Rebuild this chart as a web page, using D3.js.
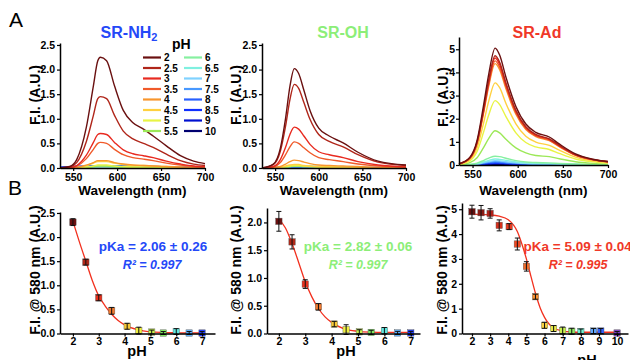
<!DOCTYPE html>
<html>
<head>
<meta charset="utf-8">
<script src="https://cdn.jsdelivr.net/npm/d3@7"></script>
<style>
  body { margin: 0; background: #fff; }
  svg { display: block; font-family: "Liberation Sans", Arial, sans-serif; }
  .axis text { font-size: 10.5px; font-weight: bold; fill: #000; font-family: "Liberation Sans", Arial, sans-serif; }
  .axis path, .axis line { stroke: #000; }
  .axis path { stroke-width: 1.5px; }
  .axis line { stroke-width: 1.2px; }
  .lab { font-weight: bold; fill: #000; }
</style>
</head>
<body>
<svg id="chart" width="630" height="360"></svg>
<script>
// pH legend
const phLabels = ['2', '2.5', '3', '3.5', '4', '4.5', '5', '5.5', '6', '6.5', '7', '7.5', '8', '8.5', '9', '10'];
const phColors = ['#6a1010', '#b0261a', '#e82a20', '#f05a2a', '#f8962e', '#ffd040', '#e8f444', '#9ce858',
  '#86f0a0', '#80f0e0', '#80d2ff', '#4898ff', '#2860ff', '#1030ff', '#0010d0', '#000070'];

// A: emission spectra, one row per pH (same order as phLabels)
const nh2Wave = [535, 546, 554, 565, 573, 578, 581, 588, 597, 607, 618, 630, 641, 656, 672, 687, 700];
const nh2Spectra = [
  [0, 0.03, 0.17, 0.83, 1.67, 2.18, 2.25, 2.18, 1.67, 1.17, 0.92, 0.79, 0.65, 0.45, 0.25, 0.14, 0.09],
  [0, 0.02, 0.11, 0.54, 1.07, 1.41, 1.45, 1.41, 1.07, 0.75, 0.59, 0.5, 0.42, 0.28, 0.15, 0.08, 0.05],
  [0, 0.01, 0.05, 0.26, 0.52, 0.68, 0.7, 0.68, 0.52, 0.37, 0.29, 0.25, 0.21, 0.14, 0.08, 0.04, 0.03],
  [0, 0.01, 0.04, 0.19, 0.38, 0.5, 0.52, 0.5, 0.38, 0.27, 0.21, 0.18, 0.15, 0.1, 0.06, 0.03, 0.02],
  [0, 0, 0.01, 0.06, 0.11, 0.15, 0.15, 0.15, 0.11, 0.08, 0.06, 0.05, 0.04, 0.03, 0.02, 0.01, 0.01],
  [0, 0, 0.01, 0.05, 0.1, 0.13, 0.13, 0.13, 0.1, 0.07, 0.05, 0.05, 0.04, 0.03, 0.01, 0.01, 0.01],
  [0, 0, 0, 0.02, 0.04, 0.06, 0.06, 0.06, 0.04, 0.03, 0.02, 0.02, 0.02, 0.01, 0.01, 0, 0],
  [0, 0, 0, 0.01, 0.03, 0.04, 0.04, 0.04, 0.03, 0.02, 0.02, 0.01, 0.01, 0.01, 0, 0, 0],
  [0, 0, 0, 0.01, 0.02, 0.03, 0.03, 0.03, 0.02, 0.02, 0.01, 0.01, 0.01, 0.01, 0, 0, 0],
  [0, 0, 0, 0.01, 0.02, 0.03, 0.03, 0.03, 0.02, 0.02, 0.01, 0.01, 0.01, 0.01, 0, 0, 0],
  [0, 0, 0.01, 0.02, 0.03, 0.03, 0.03, 0.03, 0.03, 0.02, 0.02, 0.02, 0.01, 0.01, 0, 0, 0],
  [0, 0.01, 0.02, 0.03, 0.03, 0.04, 0.04, 0.04, 0.04, 0.03, 0.03, 0.03, 0.02, 0.01, 0.01, 0, 0],
  [0.01, 0.02, 0.03, 0.03, 0.04, 0.04, 0.04, 0.04, 0.04, 0.04, 0.03, 0.03, 0.03, 0.02, 0.01, 0.01, 0],
  [0.01, 0.02, 0.03, 0.03, 0.04, 0.04, 0.04, 0.04, 0.04, 0.04, 0.03, 0.03, 0.03, 0.02, 0.01, 0.01, 0],
  [0.01, 0.02, 0.03, 0.03, 0.04, 0.04, 0.04, 0.04, 0.04, 0.04, 0.03, 0.03, 0.03, 0.02, 0.01, 0.01, 0],
  [0.01, 0.02, 0.02, 0.03, 0.03, 0.03, 0.03, 0.03, 0.03, 0.03, 0.03, 0.03, 0.02, 0.02, 0.01, 0.01, 0]
];

const ohWave = [535, 548, 556, 562, 567, 572, 577, 583, 590, 600, 612, 628, 645, 668, 700];
const ohSpectra = [
  [0, 0.08, 0.4, 1.01, 1.66, 2.02, 1.92, 1.58, 1.17, 0.81, 0.65, 0.51, 0.32, 0.14, 0.06],
  [0, 0.07, 0.34, 0.85, 1.39, 1.7, 1.62, 1.33, 0.99, 0.68, 0.54, 0.43, 0.27, 0.12, 0.05],
  [0, 0.03, 0.17, 0.42, 0.68, 0.83, 0.79, 0.65, 0.48, 0.33, 0.27, 0.21, 0.13, 0.06, 0.02],
  [0, 0.02, 0.11, 0.27, 0.43, 0.53, 0.5, 0.41, 0.31, 0.21, 0.17, 0.13, 0.08, 0.04, 0.02],
  [0, 0.01, 0.03, 0.08, 0.13, 0.16, 0.15, 0.12, 0.09, 0.06, 0.05, 0.04, 0.03, 0.01, 0],
  [0, 0, 0.01, 0.04, 0.06, 0.07, 0.07, 0.05, 0.04, 0.03, 0.02, 0.02, 0.01, 0, 0],
  [0, 0, 0.01, 0.03, 0.04, 0.05, 0.05, 0.04, 0.03, 0.02, 0.02, 0.01, 0.01, 0, 0],
  [0, 0, 0.01, 0.02, 0.03, 0.04, 0.04, 0.03, 0.03, 0.02, 0.02, 0.01, 0.01, 0, 0],
  [0, 0, 0.01, 0.02, 0.03, 0.04, 0.04, 0.03, 0.03, 0.02, 0.02, 0.01, 0.01, 0, 0],
  [0, 0.01, 0.01, 0.02, 0.03, 0.03, 0.03, 0.03, 0.03, 0.02, 0.02, 0.02, 0.01, 0, 0],
  [0, 0.01, 0.02, 0.02, 0.03, 0.03, 0.03, 0.03, 0.03, 0.03, 0.02, 0.02, 0.01, 0.01, 0],
  [0, 0.01, 0.02, 0.02, 0.03, 0.03, 0.03, 0.03, 0.03, 0.03, 0.02, 0.02, 0.01, 0.01, 0],
  [0, 0.01, 0.02, 0.02, 0.02, 0.03, 0.03, 0.03, 0.02, 0.02, 0.02, 0.01, 0.01, 0, 0],
  [0, 0.01, 0.01, 0.02, 0.02, 0.02, 0.02, 0.02, 0.02, 0.02, 0.01, 0.01, 0.01, 0, 0],
  [0, 0.01, 0.01, 0.01, 0.02, 0.02, 0.02, 0.02, 0.02, 0.01, 0.01, 0.01, 0, 0, 0],
  [0, 0, 0.01, 0.01, 0.01, 0.01, 0.01, 0.01, 0.01, 0.01, 0.01, 0, 0, 0, 0]
];

const adWave = [535, 547, 555, 562, 568, 575, 580, 587, 598, 609, 620, 635, 646, 664, 683, 700];
const adSpectra = [
  [0.05, 0.33, 1.06, 2.53, 3.94, 5.05, 4.75, 3.79, 2.53, 1.77, 1.41, 1.21, 0.91, 0.48, 0.25, 0.15],
  [0.05, 0.31, 0.99, 2.36, 3.68, 4.72, 4.44, 3.54, 2.36, 1.65, 1.32, 1.13, 0.85, 0.45, 0.24, 0.14],
  [0.05, 0.3, 0.97, 2.31, 3.6, 4.62, 4.34, 3.47, 2.31, 1.62, 1.29, 1.11, 0.83, 0.44, 0.23, 0.14],
  [0.05, 0.29, 0.95, 2.25, 3.51, 4.5, 4.23, 3.38, 2.25, 1.58, 1.26, 1.08, 0.81, 0.43, 0.23, 0.14],
  [0.04, 0.28, 0.92, 2.19, 3.42, 4.38, 4.12, 3.29, 2.19, 1.53, 1.23, 1.05, 0.79, 0.42, 0.22, 0.13],
  [0.04, 0.23, 0.75, 1.78, 2.77, 3.55, 3.34, 2.66, 1.78, 1.24, 0.99, 0.85, 0.64, 0.34, 0.18, 0.11],
  [0.03, 0.18, 0.58, 1.39, 2.17, 2.78, 2.61, 2.09, 1.39, 0.97, 0.78, 0.67, 0.5, 0.26, 0.14, 0.08],
  [0.01, 0.1, 0.31, 0.74, 1.15, 1.48, 1.39, 1.11, 0.74, 0.52, 0.41, 0.36, 0.27, 0.14, 0.07, 0.04],
  [0, 0.02, 0.08, 0.19, 0.3, 0.38, 0.36, 0.29, 0.19, 0.13, 0.11, 0.09, 0.07, 0.04, 0.02, 0.01],
  [0, 0.02, 0.05, 0.13, 0.2, 0.26, 0.24, 0.2, 0.13, 0.09, 0.07, 0.06, 0.05, 0.02, 0.01, 0.01],
  [0, 0.01, 0.04, 0.1, 0.15, 0.19, 0.18, 0.14, 0.1, 0.07, 0.05, 0.05, 0.03, 0.02, 0.01, 0.01],
  [0, 0.01, 0.03, 0.08, 0.12, 0.15, 0.14, 0.11, 0.08, 0.05, 0.04, 0.04, 0.03, 0.01, 0.01, 0],
  [0, 0.01, 0.02, 0.06, 0.09, 0.11, 0.1, 0.08, 0.06, 0.04, 0.03, 0.03, 0.02, 0.01, 0.01, 0],
  [0, 0.01, 0.02, 0.04, 0.06, 0.08, 0.08, 0.06, 0.04, 0.03, 0.02, 0.02, 0.01, 0.01, 0, 0],
  [0, 0, 0.01, 0.03, 0.05, 0.06, 0.06, 0.05, 0.03, 0.02, 0.02, 0.01, 0.01, 0.01, 0, 0],
  [0, 0, 0.01, 0.02, 0.02, 0.03, 0.03, 0.02, 0.02, 0.01, 0.01, 0.01, 0.01, 0, 0, 0]
];

// B: intensity at 580 nm vs pH, with error bars and fitted curve
const b1Ph = [2, 2.5, 3, 3.5, 4.1, 4.55, 5.05, 5.5, 6, 6.5, 7];
const b1Val = [2.31, 1.48, 0.74, 0.47, 0.15, 0.06, 0.03, 0.01, 0.04, 0.01, 0.01];
const b1Err = [0.05, 0.04, 0.04, 0.05, 0.04, 0.05, 0.02, 0.01, 0.04, 0.01, 0.01];
const b1FitPh = [2, 2.25, 2.5, 2.75, 3, 3.25, 3.5, 3.75, 4, 4.5, 5, 5.5, 6, 7];
const b1FitVal = [2.33, 1.9, 1.5, 1.1, 0.78, 0.57, 0.4, 0.27, 0.18, 0.08, 0.035, 0.02, 0.015, 0.01];

const b2Ph = [2, 2.5, 3, 3.5, 4.1, 4.55, 5.05, 5.5, 6, 6.5, 7];
const b2Val = [2.02, 1.65, 0.89, 0.48, 0.17, 0.07, 0.03, 0.02, 0.05, 0.01, 0.01];
const b2Err = [0.16, 0.11, 0.06, 0.04, 0.03, 0.07, 0.02, 0.02, 0.04, 0.01, 0.01];
const b2FitPh = [2, 2.25, 2.5, 2.75, 3, 3.25, 3.5, 3.75, 4, 4.5, 5, 5.5, 6, 7];
const b2FitVal = [2.06, 1.9, 1.62, 1.28, 0.93, 0.66, 0.45, 0.3, 0.2, 0.08, 0.04, 0.025, 0.02, 0.02];

const b3Ph = [2, 2.5, 3, 3.5, 4.05, 4.5, 5, 5.5, 6, 6.5, 7, 7.5, 8, 8.7, 9.1, 10];
const b3Val = [4.9, 4.86, 4.83, 4.35, 4.3, 3.6, 2.7, 1.48, 0.33, 0.2, 0.12, 0.09, 0.08, 0.1, 0.1, 0.02];
const b3Err = [0.22, 0.25, 0.15, 0.18, 0.08, 0.2, 0.15, 0.06, 0.08, 0.08, 0.1, 0.08, 0.06, 0.06, 0.06, 0.02];
const b3FitPh = [2, 3, 3.5, 4, 4.5, 4.75, 5, 5.25, 5.5, 5.75, 6, 6.5, 7, 7.5, 8, 10];
const b3FitVal = [4.8, 4.77, 4.72, 4.58, 4.1, 3.6, 3.0, 2.3, 1.62, 1.05, 0.65, 0.22, 0.1, 0.06, 0.05, 0.05];

// marker colours (style only)
const b12Colors = ['#6a1010', '#b02818', '#e8301c', '#f07a30', '#f8c838', '#f0f040', '#c8f050', '#80e860', '#60e8e0', '#60b0ff', '#2040ff'];
const b3Colors = ['#6a1010', '#8a1a14', '#b02018', '#d8301c', '#e83a20', '#f04a24', '#f06a2a', '#f89030',
  '#f8d040', '#e8e848', '#c8f050', '#90e860', '#70f0d0', '#60a8ff', '#3060ff', '#8040c0'];

const svg = d3.select('#chart');

function spectraPanel(o) {
  const x = d3.scaleLinear().domain([535, 700]).range([o.left, o.right]);
  const y = d3.scaleLinear().domain([0, o.yMax]).range([o.bottom, o.top]);
  const g = svg.append('g');
  const line = d3.line().x((d) => x(d[0])).y((d) => y(d[1])).curve(d3.curveMonotoneX);
  for (let i = o.values.length - 1; i >= 0; i--) {
    g.append('path')
      .datum(o.wave.map((w, j) => [w, o.values[i][j]]))
      .attr('fill', 'none')
      .attr('stroke', phColors[i])
      .attr('stroke-width', 1.4)
      .attr('d', line);
  }
  g.append('g').attr('class', 'axis')
    .attr('transform', 'translate(0,' + o.bottom + ')')
    .call(d3.axisBottom(x).tickValues([550, 600, 650, 700]).tickSize(3).tickSizeOuter(0).tickPadding(2.5));
  g.append('g').attr('class', 'axis')
    .attr('transform', 'translate(' + o.left + ',0)')
    .call(d3.axisLeft(y).tickValues(o.yTicks).tickFormat(o.fmt).tickSize(3).tickSizeOuter(0).tickPadding(o.pad));
  g.append('text').attr('class', 'lab')
    .attr('x', (o.left + o.right) / 2).attr('y', 195)
    .attr('text-anchor', 'middle').style('font-size', '13.5px')
    .text('Wavelength (nm)');
  g.append('text').attr('class', 'lab')
    .attr('transform', 'translate(' + o.labX + ',' + o.labY + ') rotate(-90)')
    .attr('text-anchor', 'middle').style('font-size', '14px')
    .text('F.I. (A.U.)');
}

function titrationPanel(o) {
  const x = d3.scaleLinear().domain(o.xDomain).range([o.left, o.right]);
  const y = d3.scaleLinear().domain([0, o.yMax]).range([333.5, o.top]);
  const g = svg.append('g');
  const fit = d3.line().x((d) => x(d[0])).y((d) => y(d[1])).curve(d3.curveMonotoneX);
  g.append('path')
    .datum(o.fitPh.map((p, i) => [p, o.fitVal[i]]))
    .attr('fill', 'none').attr('stroke', '#f2301e').attr('stroke-width', 1.3)
    .attr('d', fit);
  const pts = o.ph.map((p, i) => ({ p: p, v: o.val[i], e: o.err[i], c: o.colors[i] }));
  g.selectAll('.sq').data(pts).enter().append('rect')
    .attr('x', (d) => x(d.p) - 3.2).attr('y', (d) => y(d.v) - 3.2)
    .attr('width', 6.4).attr('height', 6.4)
    .attr('fill', (d) => d.c).attr('stroke', '#555').attr('stroke-width', 0.4);
  const eb = g.selectAll('.eb').data(pts).enter().append('g').attr('stroke', '#111').attr('stroke-width', 1);
  eb.append('line').attr('x1', (d) => x(d.p)).attr('x2', (d) => x(d.p))
    .attr('y1', (d) => y(d.v - d.e) + 1).attr('y2', (d) => y(d.v + d.e) - 1);
  eb.append('line').attr('x1', (d) => x(d.p) - 2.5).attr('x2', (d) => x(d.p) + 2.5)
    .attr('y1', (d) => y(d.v + d.e) - 1).attr('y2', (d) => y(d.v + d.e) - 1);
  eb.append('line').attr('x1', (d) => x(d.p) - 2.5).attr('x2', (d) => x(d.p) + 2.5)
    .attr('y1', (d) => y(d.v - d.e) + 1).attr('y2', (d) => y(d.v - d.e) + 1);
  g.append('g').attr('class', 'axis')
    .attr('transform', 'translate(0,333.5)')
    .call(d3.axisBottom(x).tickValues(o.xTicks).tickFormat(d3.format('d')).tickSize(3).tickSizeOuter(0).tickPadding(1));
  g.append('g').attr('class', 'axis')
    .attr('transform', 'translate(' + o.left + ',0)')
    .call(d3.axisLeft(y).tickValues(o.yTicks).tickFormat(o.fmt).tickSize(3).tickSizeOuter(0).tickPadding(2));
  g.append('text').attr('class', 'lab')
    .attr('x', o.phX).attr('y', o.phY).attr('text-anchor', 'middle').style('font-size', '14.5px')
    .text('pH');
  g.append('text').attr('class', 'lab')
    .attr('transform', 'translate(' + o.labX + ',270) rotate(-90)')
    .attr('text-anchor', 'middle').style('font-size', '14px')
    .text('F.I. @ 580 nm (A.U.)');
  g.append('text')
    .attr('x', o.pkX).attr('y', 251).attr('text-anchor', o.pkAnchor)
    .style('font-size', '13.5px').style('font-weight', 'bold').attr('fill', o.color)
    .text(o.pka);
  g.append('text')
    .attr('x', o.rX).attr('y', 269).attr('text-anchor', 'middle')
    .style('font-size', '12.5px').style('font-weight', 'bold').style('font-style', 'italic')
    .attr('fill', o.color)
    .text(o.r2);
}

const f1 = d3.format('.1f');

spectraPanel({ left: 60, right: 205, bottom: 168, top: 43, yMax: 2.54, yTicks: [0, 0.5, 1, 1.5, 2, 2.5], fmt: f1,
  wave: nh2Wave, values: nh2Spectra, labX: 40, labY: 95, pad: 2 });
spectraPanel({ left: 262, right: 406, bottom: 168, top: 43, yMax: 2.54, yTicks: [0, 0.5, 1, 1.5, 2, 2.5], fmt: f1,
  wave: ohWave, values: ohSpectra, labX: 241, labY: 95, pad: 2 });
spectraPanel({ left: 459, right: 608, bottom: 165, top: 37, yMax: 5.53, yTicks: [0, 1, 2, 3, 4, 5], fmt: d3.format('d'),
  wave: adWave, values: adSpectra, labX: 448, labY: 97, pad: 1 });

titrationPanel({ left: 60, right: 215, xDomain: [1.5, 7.5], top: 212, yMax: 2.52, xTicks: [2, 3, 4, 5, 6, 7],
  yTicks: [0, 0.5, 1, 1.5, 2, 2.5], fmt: f1, ph: b1Ph, val: b1Val, err: b1Err, fitPh: b1FitPh, fitVal: b1FitVal,
  colors: b12Colors, phX: 137, phY: 355.5, labX: 40, color: '#2448f8', pka: 'pKa = 2.06 \u00b1 0.26', pkX: 153, pkAnchor: 'middle',
  r2: 'R\u00b2 = 0.997', rX: 152 });
titrationPanel({ left: 267, right: 420, xDomain: [1.55, 7.35], top: 208, yMax: 2.26, xTicks: [2, 3, 4, 5, 6, 7],
  yTicks: [0, 0.5, 1, 1.5, 2], fmt: f1, ph: b2Ph, val: b2Val, err: b2Err, fitPh: b2FitPh, fitVal: b2FitVal,
  colors: b12Colors, phX: 346, phY: 355.5, labX: 241, color: '#8cee78', pka: 'pKa = 2.82 \u00b1 0.06', pkX: 358, pkAnchor: 'middle',
  r2: 'R\u00b2 = 0.997', rX: 358 });
titrationPanel({ left: 462, right: 628, xDomain: [1.45, 10.6], top: 203, yMax: 5.25, xTicks: [2, 3, 4, 5, 6, 7, 8, 9, 10],
  yTicks: [0, 1, 2, 3, 4, 5], fmt: d3.format('d'), ph: b3Ph, val: b3Val, err: b3Err, fitPh: b3FitPh, fitVal: b3FitVal,
  colors: b3Colors, phX: 587, phY: 365, labX: 447, color: '#f03828', pka: 'pKa = 5.09 \u00b1 0.04', pkX: 523.5, pkAnchor: 'start',
  r2: 'R\u00b2 = 0.995', rX: 578 });

// panel letters and titles
svg.append('text').attr('x', 9).attr('y', 27).style('font-size', '21px').text('A');
svg.append('text').attr('x', 8).attr('y', 195).style('font-size', '21px').text('B');

const t1 = svg.append('text').attr('x', 129).attr('y', 38).attr('text-anchor', 'middle')
  .style('font-size', '16px').style('font-weight', 'bold').attr('fill', '#2448f8');
t1.append('tspan').text('SR-NH');
t1.append('tspan').attr('dy', 3).style('font-size', '11px').text('2');
svg.append('text').attr('x', 343).attr('y', 38).attr('text-anchor', 'middle')
  .style('font-size', '16px').style('font-weight', 'bold').attr('fill', '#8cee78').text('SR-OH');
svg.append('text').attr('x', 537).attr('y', 38).attr('text-anchor', 'middle')
  .style('font-size', '16px').style('font-weight', 'bold').attr('fill', '#f03828').text('SR-Ad');

// legend
svg.append('text').attr('class', 'lab').attr('x', 172).attr('y', 49).style('font-size', '14px').text('pH');
const leg = svg.selectAll('.leg').data(phLabels).enter().append('g')
  .attr('transform', (d, i) => 'translate(' + (i < 8 ? 143 : 184) + ',' + (57.5 + (i % 8) * 10.5) + ')');
leg.append('line').attr('x1', 0).attr('x2', 18).attr('y1', 0).attr('y2', 0)
  .attr('stroke', (d, i) => phColors[i]).attr('stroke-width', 2.2);
leg.append('text').attr('class', 'lab').attr('x', 21).attr('y', 3.6).style('font-size', '10px').text((d) => d);
</script>
</body>
</html>
